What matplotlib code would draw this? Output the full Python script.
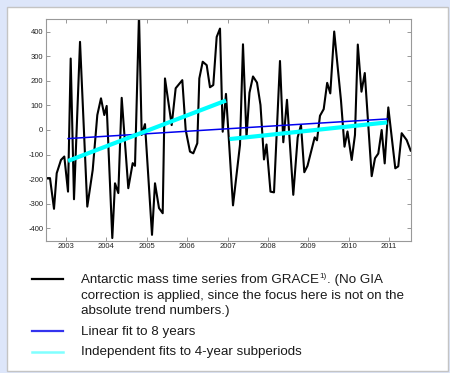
import matplotlib
matplotlib.use("Agg")
import matplotlib.pyplot as plt
from matplotlib.patches import Rectangle
from matplotlib.lines import Line2D

plt.rcParams['font.family'] = ['Liberation Sans', 'DejaVu Sans']

# Antarctic mass time series (GRACE), decimal year and mass anomaly
years = [2002.505, 2002.604, 2002.703, 2002.770, 2002.876, 2002.958, 2003.050, 2003.116,
         2003.198, 2003.347, 2003.527, 2003.661, 2003.775, 2003.866, 2003.948, 2004.007,
         2004.146, 2004.213, 2004.295, 2004.379, 2004.542, 2004.651, 2004.708, 2004.807,
         2004.874, 2004.955, 2005.129, 2005.203, 2005.302, 2005.394, 2005.450, 2005.616,
         2005.715, 2005.879, 2005.963, 2006.069, 2006.151, 2006.250, 2006.300, 2006.384,
         2006.483, 2006.564, 2006.646, 2006.730, 2006.812, 2006.879, 2006.960, 2007.134,
         2007.307, 2007.381, 2007.468, 2007.542, 2007.629, 2007.728, 2007.814, 2007.901,
         2007.963, 2008.062, 2008.149, 2008.297, 2008.379, 2008.470, 2008.626, 2008.735,
         2008.817, 2008.899, 2008.978, 2009.156, 2009.213, 2009.287, 2009.379, 2009.465,
         2009.542, 2009.639, 2009.720, 2009.807, 2009.894, 2009.968, 2010.072, 2010.153,
         2010.223, 2010.314, 2010.396, 2010.567, 2010.649, 2010.730, 2010.814, 2010.889,
         2010.978, 2011.151, 2011.225, 2011.309, 2011.433, 2011.532]
mass = [-196, -196, -321, -176, -122, -108, -251, 291,
        -282, 359, -312, -163, 61, 129, 61, 98,
        -440, -217, -257, 131, -237, -135, -146, 470,
        -20, 24, -427, -217, -318, -339, 210, 20,
        170, 203, 0, -88, -95, -54, 210, 278,
        264, 174, 183, 379, 413, -7, 147, -307,
        -60, 349, -30, 152, 218, 193, 102, -120,
        -59, -251, -254, 281, -50, 123, -264, -30,
        20, -172, -146, -30, -42, 58, 85, 192,
        149, 401, 265, 120, -68, -6, -122, -20,
        348, 156, 232, -188, -115, -96, 0, -136,
        92, -156, -148, -13, -41, -84]

# Linear fit to 8 years (endpoints)
fit8_years = [2003.05, 2010.95]
fit8_vals = [-35, 45]

# Independent fits to 4-year subperiods (endpoints)
fit4a_years = [2003.05, 2006.96]
fit4a_vals = [-126, 120]
fit4b_years = [2007.05, 2010.95]
fit4b_vals = [-37, 31]

xticks = [2003, 2004, 2005, 2006, 2007, 2008, 2009, 2010, 2011]
yticks = [-400, -300, -200, -100, 0, 100, 200, 300, 400]

legend_first = "Antarctic mass time series from GRACE"
legend_sup = "1)"
legend_first_rest = ". (No GIA"
legend_labels = [
    [None,
     "correction is applied, since the focus here is not on the",
     "absolute trend numbers.)"],
    ["Linear fit to 8 years"],
    ["Independent fits to 4-year subperiods"],
]

W, H = 450, 373
fig = plt.figure(figsize=(W / 100, H / 100), dpi=100)
fig.patch.set_facecolor('#dde6fa')

# white panel
fig.patches.append(Rectangle((7 / W, 1 - 371 / H), 441 / W, 364 / H,
                             transform=fig.transFigure, facecolor='white',
                             edgecolor='#c4c4c4', linewidth=1.0, zorder=-5))

ax = fig.add_axes([46 / W, 1 - 240.5 / H, 365 / W, 221.5 / H])
ax.set_zorder(2)
ax.set_facecolor('white')
ax.plot(years, mass, color='black', lw=1.5, zorder=2)
ax.plot(fit8_years, fit8_vals, color='#0000ee', lw=1.1, zorder=3)
ax.plot(fit4a_years, fit4a_vals, color='#00ffff', lw=3.0, zorder=4, solid_capstyle='butt')
ax.plot(fit4b_years, fit4b_vals, color='#00ffff', lw=3.0, zorder=4, solid_capstyle='butt')

ax.set_xlim(2002.505, 2011.54)
ax.set_ylim(-450, 452)
ax.set_xticks(xticks)
ax.set_xticklabels([str(t) for t in xticks])
ax.set_yticks(yticks)
ax.set_yticklabels([str(t) for t in yticks])
ax.tick_params(direction='in', length=3, width=0.6, colors='#888888',
               labelcolor='#222222', labelsize=5.5, pad=2,
               top=True, right=True)
for s in ax.spines.values():
    s.set_color('#999999')
    s.set_linewidth(0.8)

# legend below
FS = 9.6
TXTC = '#1a1a1a'
handle_specs = [('black', 1.6, 279), ('#3333ee', 1.6, 331), ('#80ffff', 1.8, 352)]
text_rows = [[283, 298.5, 314], [335], [355]]
renderer = fig.canvas.get_renderer()
for (col, lw, yy), labels, rows in zip(handle_specs, legend_labels, text_rows):
    fig.add_artist(Line2D([32 / W, 63 / W], [1 - yy / H, 1 - yy / H],
                          color=col, lw=lw, transform=fig.transFigure))
    for lab, ry in zip(labels, rows):
        if lab is None:
            t1 = fig.text(81 / W, 1 - ry / H, legend_first, fontsize=FS, color=TXTC,
                          va='baseline', ha='left')
            x1 = t1.get_window_extent(renderer).x1
            t2 = fig.text((x1 + 0.5) / W, 1 - (ry - 4.5) / H, legend_sup, fontsize=FS * 0.6,
                          color=TXTC, va='baseline', ha='left')
            x2 = t2.get_window_extent(renderer).x1
            fig.text((x2 + 0.3) / W, 1 - ry / H, legend_first_rest, fontsize=FS, color=TXTC,
                     va='baseline', ha='left')
        else:
            fig.text(81 / W, 1 - ry / H, lab, fontsize=FS, color=TXTC,
                     va='baseline', ha='left')

fig.savefig('out.png', dpi=100, facecolor=fig.get_facecolor())
